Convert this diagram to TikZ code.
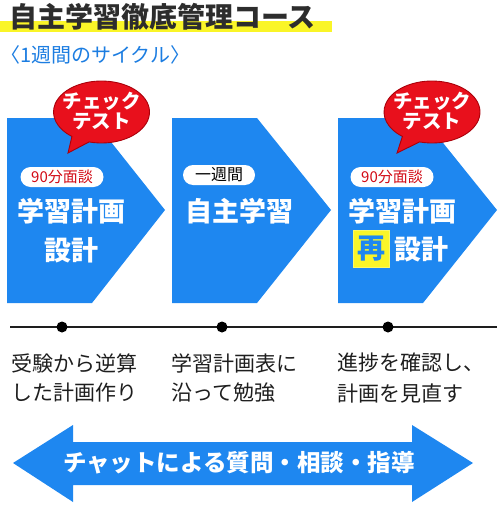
\documentclass[tikz,border=0pt]{standalone}
\usepackage{fontspec}
\usetikzlibrary{calc}
\setmainfont{Noto Sans CJK JP}
\definecolor{pentblue}{RGB}{30,135,240}
\definecolor{subblue}{RGB}{28,125,225}
\definecolor{titlegray}{RGB}{45,45,45}
\definecolor{hiyellow}{RGB}{250,245,40}
\definecolor{bubred}{RGB}{232,16,28}
\definecolor{bubdark}{RGB}{170,0,10}
\definecolor{badgered}{RGB}{210,10,20}
\definecolor{labgray}{RGB}{30,30,30}
\tikzset{
  pentshape/.style={fill=pentblue, draw=none},
  bubble/.style={fill=bubred, draw=bubdark, line width=0.9pt},
  bubtext/.style={text=white, font=\bfseries\fontsize{19.5}{21}\selectfont, align=center, inner sep=0},
  badge/.style={fill=white, rounded corners=10pt, minimum height=20pt, inner sep=0},
  maintext/.style={text=white, font=\bfseries\fontsize{27}{29}\selectfont, inner sep=0},
  labtext/.style={text=labgray, font=\fontsize{21}{23}\selectfont, anchor=west, inner sep=0},
  dot/.style={circle, fill=black, minimum size=11pt, inner sep=0},
}
\begin{document}
\begin{tikzpicture}[x=1pt,y=-1pt]
\useasboundingbox (0,0) rectangle (500,508);
% title
\fill[hiyellow] (0,21) rectangle (332,32);
\node[anchor=west, text=titlegray, font=\bfseries\fontsize{28}{30}\selectfont, inner sep=0] (title) at (9,17) {自主学習徹底管理コース};
\node[anchor=west, text=subblue, font=\fontsize{20}{22}\selectfont, inner sep=0] (sub) at (0,55) {〈1週間のサイクル〉};
% pentagons
\fill[pentshape] (7,118) -- (92,118) -- (165,210) -- (92,303) -- (7,303) -- cycle;
\fill[pentshape] (172,118) -- (257,118) -- (331,210) -- (257,303) -- (172,303) -- cycle;
\fill[pentshape] (338,118) -- (423,118) -- (497,210) -- (423,303) -- (338,303) -- cycle;
% bubbles
\draw[bubble] (68,153) -- ($(101.5,112)+(105:48 and 31)$) arc[start angle=105, end angle=-232, x radius=48, y radius=31] -- cycle;
\node[bubtext] (bub1) at (101.5,111.5) {チェック\\[-1pt]テスト};
\draw[bubble] (397,153) -- ($(432,112)+(105:48 and 31)$) arc[start angle=105, end angle=-232, x radius=48, y radius=31] -- cycle;
\node[bubtext] (bub3) at (432,111.5) {チェック\\[-1pt]テスト};
% badges
\node[badge, minimum width=83pt, text=badgered, font=\fontsize{15}{17}\selectfont] (badge1) at (62,177) {90分面談};
\node[badge, minimum width=72pt, text=black, font=\fontsize{16}{18}\selectfont] (badge2) at (219,175) {一週間};
\node[badge, minimum width=83pt, text=badgered, font=\fontsize{15}{17}\selectfont] (badge3) at (392,177) {90分面談};
% main texts
\node[maintext] (m1a) at (71,211) {学習計画};
\node[maintext] (m1b) at (71,250) {設計};
\node[maintext] (m2) at (239,211) {自主学習};
\node[maintext] (m3a) at (402,211) {学習計画};
\node[fill=hiyellow, draw=hiyellow!70!white, line width=0.6pt, minimum width=36pt, minimum height=37pt, inner sep=0, text=pentblue, font=\bfseries\fontsize{28}{30}\selectfont] (re) at (371.5,248.5) {再};
\node[maintext] (m3b) at (421,249) {設計};
% timeline
\coordinate (tl0) at (10,327);
\coordinate (tl1) at (497,327);
\draw[line width=1.8pt, labgray] (tl0) -- (tl1);
\node[dot] (d1) at (62,327) {};
\node[dot] (d2) at (222,327) {};
\node[dot] (d3) at (388,327) {};
% labels
\node[labtext] (l1a) at (11,363) {受験から逆算};
\node[labtext] (l1b) at (11,393) {した計画作り};
\node[labtext] (l2a) at (171,363) {学習計画表に};
\node[labtext] (l2b) at (171,393) {沿って勉強};
\node[labtext] (l3a) at (337,363) {進捗を確認し、};
\node[labtext] (l3b) at (337,393) {計画を見直す};
% double arrow
\fill[pentshape] (13,463) -- (73,425) -- (73,442) -- (412,442) -- (412,425) -- (473,463) -- (412,502) -- (412,485) -- (73,485) -- (73,502) -- cycle;
\node[text=white, font=\bfseries\fontsize{23.5}{25}\selectfont, inner sep=0] (chat) at (239,463) {チャットによる質問・相談・指導};
\end{tikzpicture}
\end{document}
